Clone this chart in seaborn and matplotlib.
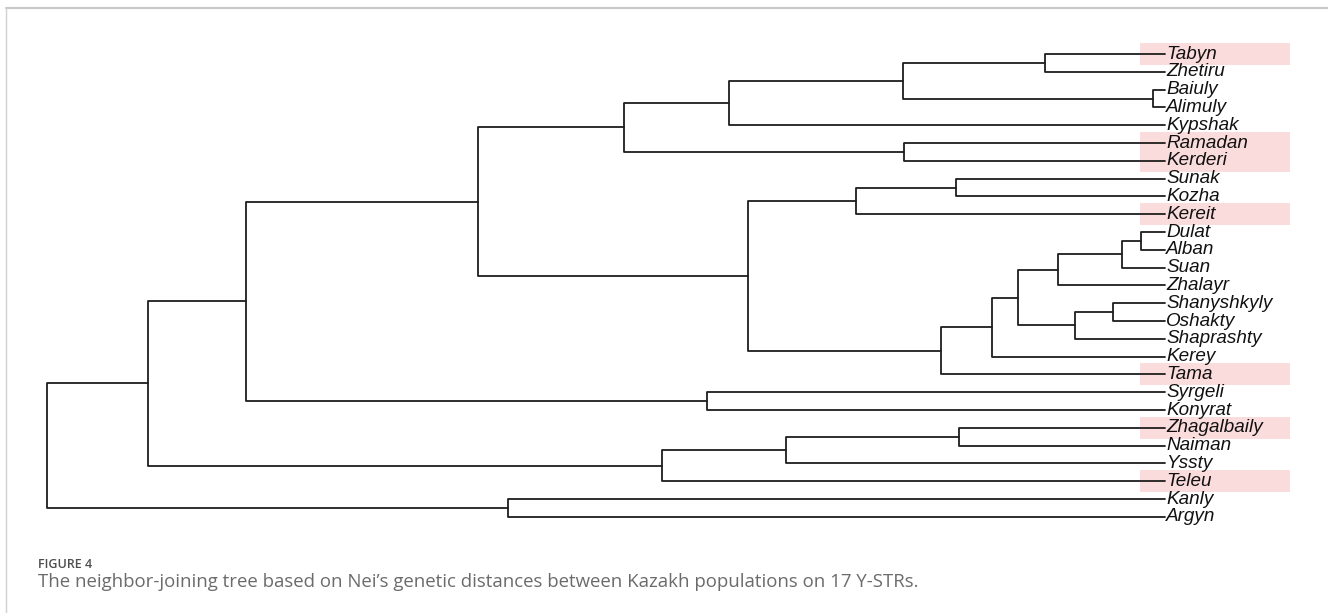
import numpy as np
import pandas as pd
import matplotlib.pyplot as plt
import seaborn as sns
from matplotlib.patches import Rectangle
from matplotlib.lines import Line2D

# Tip labels, top to bottom
leaves = ['Tabyn', 'Zhetiru', 'Baiuly', 'Alimuly', 'Kypshak', 'Ramadan', 'Kerderi',
          'Sunak', 'Kozha', 'Kereit', 'Dulat', 'Alban', 'Suan', 'Zhalayr',
          'Shanyshkyly', 'Oshakty', 'Shaprashty', 'Kerey', 'Tama', 'Syrgeli',
          'Konyrat', 'Zhagalbaily', 'Naiman', 'Yssty', 'Teleu', 'Kanly', 'Argyn']

# Populations shaded in the figure
highlighted = ['Tabyn', 'Ramadan', 'Kerderi', 'Kereit', 'Tama', 'Zhagalbaily', 'Teleu']

# Internal nodes: children and height (distance from the tips)
node_ids = ['G', 'H', 'F', 'E', 'I', 'D', 'L', 'K', 'R', 'Q', 'P', 'T', 'S', 'O',
            'N', 'M', 'J', 'C', 'U', 'B', 'X', 'W', 'V', 'A', 'Y', 'root']
node_left = ['Tabyn', 'Baiuly', 'G', 'F', 'Ramadan', 'E', 'Sunak', 'L', 'Dulat', 'R',
             'Q', 'Shanyshkyly', 'T', 'P', 'O', 'N', 'K', 'D', 'Syrgeli', 'C',
             'Zhagalbaily', 'X', 'W', 'B', 'Kanly', 'A']
node_right = ['Zhetiru', 'Alimuly', 'H', 'Kypshak', 'Kerderi', 'I', 'Kozha', 'Kereit',
              'Alban', 'Suan', 'Zhalayr', 'Oshakty', 'Shaprashty', 'S', 'Kerey', 'Tama',
              'M', 'J', 'Konyrat', 'U', 'Naiman', 'Yssty', 'Teleu', 'V', 'Argyn', 'Y']
node_height = [0.120, 0.012, 0.262, 0.436, 0.261, 0.541, 0.209, 0.309, 0.024, 0.043,
               0.107, 0.052, 0.090, 0.147, 0.173, 0.224, 0.417, 0.687, 0.458, 0.919,
               0.206, 0.379, 0.503, 1.017, 0.657, 1.118]

caption_head = 'FIGURE 4'
caption_text = ('The neighbor-joining tree based on Nei\u2019s genetic distances between '
                'Kazakh populations on 17 Y-STRs.')

sns.set_style('white')
plt.rcParams['font.family'] = ['Liberation Sans', 'DejaVu Sans']

# tree layout: tips evenly spaced, nodes at the mean of their children
ypos = {name: float(i) for i, name in enumerate(leaves)}
xpos = {name: 0.0 for name in leaves}
rows = []
for nid, left, right, h in zip(node_ids, node_left, node_right, node_height):
    ypos[nid] = (ypos[left] + ypos[right]) / 2
    xpos[nid] = h
    pts = [(xpos[left], ypos[left]), (h, ypos[left]), (h, ypos[right]), (xpos[right], ypos[right])]
    for k, (px, py) in enumerate(pts):
        rows.append({'node': nid, 'order': k, 'x': px, 'y': py})
segments = pd.DataFrame(rows)

fig = plt.figure(figsize=(13.28, 6.13), dpi=100)
ax = fig.add_axes([0, 0, 1, 1])

for name in highlighted:
    ax.add_patch(Rectangle((0.025, ypos[name] - 0.62), -0.150, 1.24,
                           facecolor='#fbdcdc', edgecolor='none', zorder=0))

sns.lineplot(data=segments, x='x', y='y', units='node', estimator=None, sort=False,
             color='#1e1e1e', linewidth=1.3, legend=False, ax=ax)

for name in leaves:
    ax.annotate(name, (0, ypos[name]), xytext=(0.8, -3.3), textcoords='offset points',
                ha='left', va='baseline', fontsize=13.6, style='italic', color='#111111')

ax.set_xlim(1.165, -0.163)
ax.set_ylim(31.404, -3.034)
ax.axis('off')

# panel frame (top and left edges)
fig.add_artist(Line2D([6 / 1328, 1], [1 - 7.5 / 613] * 2, transform=fig.transFigure,
                      color='#c8c8c8', lw=1.5))
fig.add_artist(Line2D([6 / 1328] * 2, [0, 1 - 7.5 / 613], transform=fig.transFigure,
                      color='#d0d0d0', lw=1.0))

fig.text(38 / 1328, 1 - 564 / 613, caption_head, family=['Open Sans', 'DejaVu Sans'],
         weight='semibold', fontsize=9, color='#4d4d4d', va='center')
fig.text(38 / 1328, 1 - 582 / 613, caption_text, family=['Open Sans', 'DejaVu Sans'],
         fontsize=13.4, color='#6b6b6b', va='center')

fig.savefig('out.png', dpi=100)
